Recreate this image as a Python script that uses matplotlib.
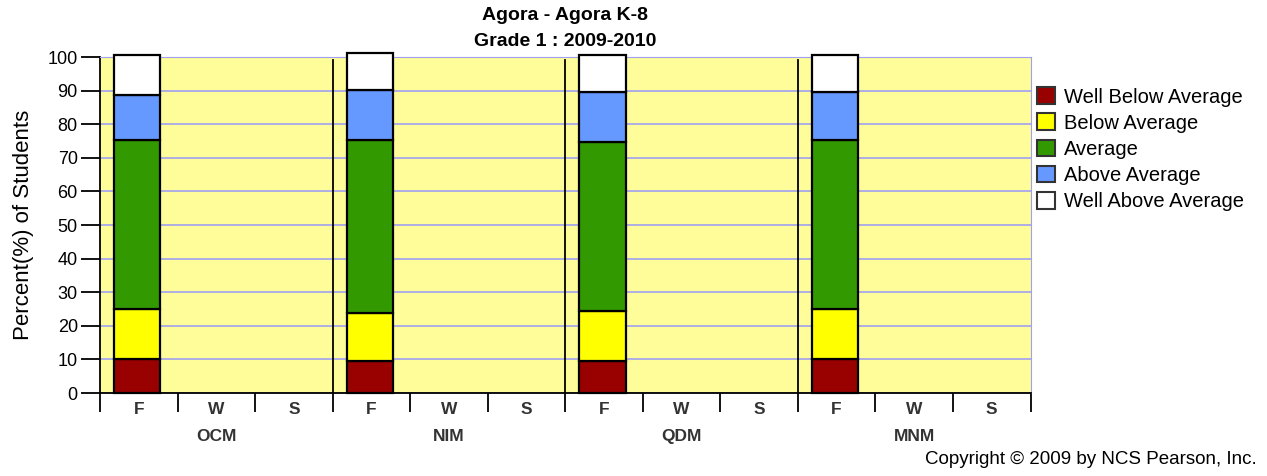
import numpy as np
import matplotlib
matplotlib.use("Agg")
import matplotlib.pyplot as plt
from matplotlib.patches import Patch

plt.rcParams['font.family'] = ['Liberation Sans', 'DejaVu Sans']

# subjects, each with Fall / Winter / Spring slots (only Fall has data)
subjects = ["OCM", "NIM", "QDM", "MNM"]
terms = ["F", "W", "S"]
levels = ["Well Below Average", "Below Average", "Average",
          "Above Average", "Well Above Average"]
colors = ["#990000", "#FFFF00", "#339900", "#6699FF", "#FFFFFF"]

# percent of students per level, Fall only
well_below = [10.0, 9.6, 9.6, 10.0]
below = [15.0, 14.3, 14.9, 15.1]
average = [50.3, 51.4, 50.1, 50.2]
above = [13.5, 15.0, 15.1, 14.4]
well_above = [11.9, 10.9, 11.0, 11.0]
series = [well_below, below, average, above, well_above]

fig = plt.figure(figsize=(12.67, 4.76), dpi=100)
ax = fig.add_axes([100 / 1267, 83 / 476, 930.5 / 1267, 336 / 476])
ax.set_facecolor("#FFFD99")

n_cat = len(subjects) * len(terms)
x_fall = np.arange(len(subjects)) * len(terms) + 0.48
bottom = np.zeros(len(subjects))
for vals, col in zip(series, colors):
    ax.bar(x_fall, vals, width=0.6, bottom=bottom, color=col,
           edgecolor="black", linewidth=1.6, zorder=3, clip_on=False)
    bottom += np.array(vals)

ax.set_xlim(0, n_cat)
ax.set_ylim(0, 100)
ax.set_yticks(np.arange(0, 101, 10))
ax.yaxis.grid(True, color="#A0A0F0", linewidth=1.2, zorder=0)
ax.tick_params(axis="y", labelsize=13, length=14, width=1.3, pad=2)

# group separators
for g in range(1, len(subjects)):
    ax.axvline(g * len(terms), color="black", linewidth=1.3, ymax=0.99, zorder=2)

# x ticks at category boundaries, labels in between
ax.set_xticks(np.arange(0, n_cat + 1))
ax.set_xticklabels([])
ax.tick_params(axis="x", length=14, width=1.3, direction="out")
for i in range(n_cat):
    ax.text(i + 0.5, -2.6, terms[i % 3], ha="center", va="top",
            fontsize=12.5, fontweight="bold", color="#333333")
for g, s in enumerate(subjects):
    ax.text(g * 3 + 1.5, -10.6, s, ha="center", va="top",
            fontsize=12.5, fontweight="bold", color="#333333")

for side in ["top", "right"]:
    ax.spines[side].set_color("#A0A0F0")
ax.spines["left"].set_linewidth(1.3)
ax.spines["bottom"].set_linewidth(1.3)

ax.set_ylabel("Percent(%) of Students", fontsize=16, labelpad=10)

fig.text(565 / 1267, 1 - 15 / 476, "Agora - Agora K-8", ha="center", va="center",
         fontsize=14, fontweight="bold")
fig.text(565 / 1267, 1 - 42 / 476, "Grade 1 : 2009-2010", ha="center", va="center",
         fontsize=14, fontweight="bold")

handles = [Patch(facecolor=c, edgecolor="#333333", linewidth=1.5) for c in colors]
ax.legend(handles, levels, loc="upper left", bbox_to_anchor=(1.007, 0.91),
          frameon=False, fontsize=14.5, handlelength=0.9, handleheight=0.9,
          handletextpad=0.45, labelspacing=0.34, borderaxespad=0, borderpad=0)

fig.text(1257 / 1267, 1 - 459 / 476, "Copyright \u00a9 2009 by NCS Pearson, Inc.",
         ha="right", va="center", fontsize=13.5)

fig.savefig("out.png", dpi=100)
